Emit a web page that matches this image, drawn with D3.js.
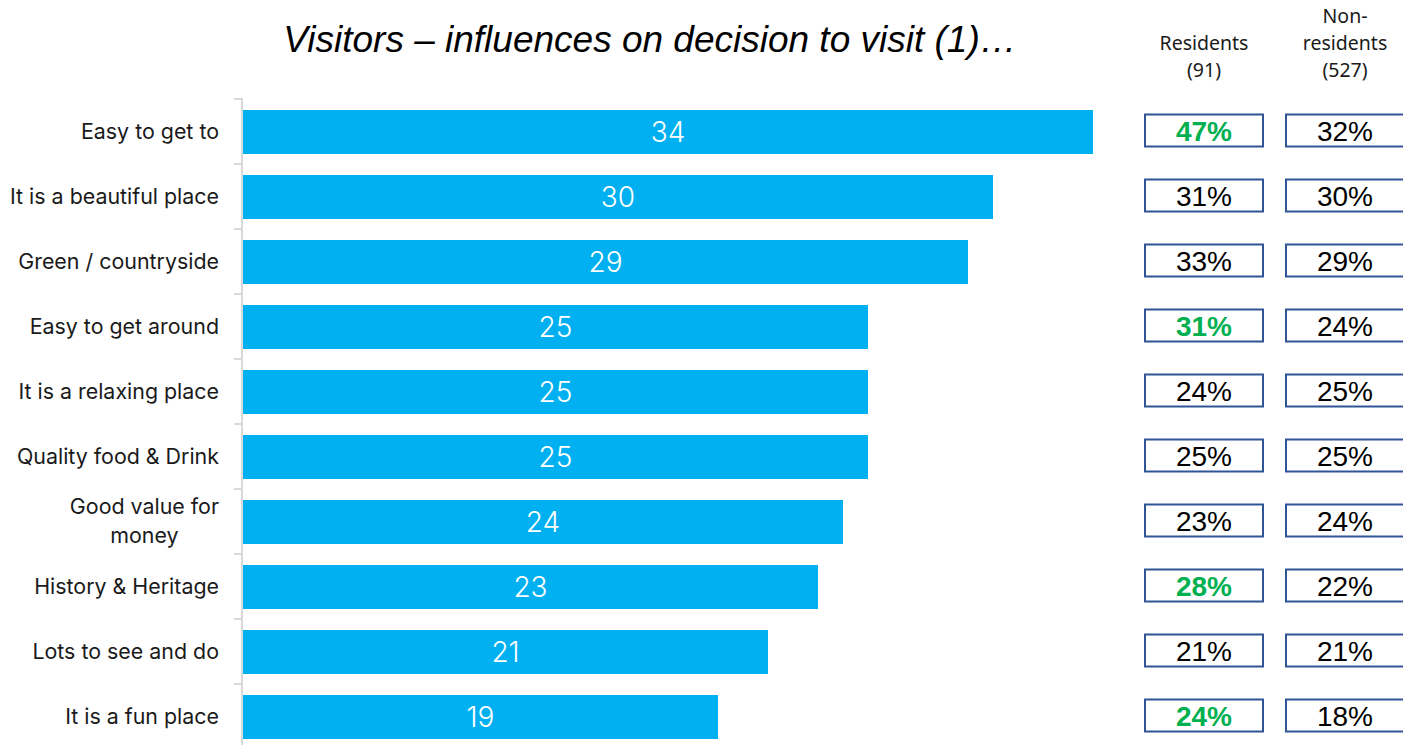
<!DOCTYPE html>
<html>
<head>
<meta charset="utf-8">
<script src="https://cdn.jsdelivr.net/npm/d3@7/dist/d3.min.js"></script>
<style>
  html, body { margin: 0; padding: 0; background: #fff; }
  svg { display: block; }
</style>
</head>
<body>
<svg id="chart" width="1403" height="745"></svg>
<script>
// Reasons for visiting, with overall score and the split by group
const categories = [
  "Easy to get to",
  "It is a beautiful place",
  "Green / countryside",
  "Easy to get around",
  "It is a relaxing place",
  "Quality food & Drink",
  "Good value for|money",
  "History & Heritage",
  "Lots to see and do",
  "It is a fun place"
];
const overall = [34, 30, 29, 25, 25, 25, 24, 23, 21, 19];
const residents = [47, 31, 33, 31, 24, 25, 23, 28, 21, 24];
const nonResidents = [32, 30, 29, 24, 25, 25, 24, 22, 21, 18];
// residents' scores that stand out against non-residents
const residentHighlight = [true, false, false, true, false, false, false, true, false, true];
const columnHeaders = [["Residents", "(91)"], ["Non-", "residents", "(527)"]];
const title = "Visitors \u2013 influences on decision to visit (1)\u2026";

const svg = d3.select("#chart");
const font = "Liberation Sans, Arial, sans-serif";
const labelFont = "Inter, Liberation Sans, sans-serif";

const x = d3.scaleLinear().domain([0, 34]).range([243, 1093]);
const y = d3.scaleBand().domain(d3.range(categories.length)).range([99, 749]);
const barPad = 11;
const barH = y.bandwidth() - 2 * barPad + 1;

// title
svg.append("text")
  .attr("x", 650).attr("y", 52)
  .attr("text-anchor", "middle")
  .attr("font-family", font)
  .attr("font-style", "italic")
  .attr("font-size", 37)
  .attr("fill", "#000")
  .text(title);

// category axis
const axis = d3.axisLeft(y).tickSize(8).tickFormat("").tickSizeOuter(0);
const gAxis = svg.append("g").attr("transform", "translate(242,0)").call(axis);
gAxis.select(".domain").attr("stroke", "#d9d9d9").attr("stroke-width", 2)
  .attr("d", "M0,98V745");
gAxis.selectAll(".tick line").attr("stroke", "#d9d9d9").attr("stroke-width", 2)
  .attr("transform", `translate(0,${-y.bandwidth() / 2})`);

// category labels: right-aligned block, wrapped lines centred on the first
const labels = svg.append("g");
categories.forEach((c, i) => {
  const lines = c.split("|");
  const cy = y(i) + y.bandwidth() / 2;
  let firstW = 0;
  lines.forEach((ln, k) => {
    const t = labels.append("text")
      .attr("font-family", labelFont)
      .attr("font-size", 21.4)
      .attr("fill", "#1a1a1a")
      .attr("y", cy + 7 + (k - (lines.length - 1) / 2) * 29)
      .text(ln);
    if (k === 0) {
      firstW = t.node().getComputedTextLength();
      t.attr("x", 219).attr("text-anchor", "end");
    } else {
      t.attr("x", 219 - firstW / 2).attr("text-anchor", "middle");
    }
  });
});

// bars
svg.append("g").selectAll("rect")
  .data(overall)
  .join("rect")
  .attr("x", x(0))
  .attr("y", (d, i) => y(i) + barPad)
  .attr("width", d => x(d) - x(0))
  .attr("height", barH)
  .attr("fill", "#00b0f0");

// bar value labels
svg.append("g").selectAll("text")
  .data(overall)
  .join("text")
  .attr("x", d => (x(0) + x(d)) / 2)
  .attr("y", (d, i) => y(i) + y.bandwidth() / 2 + 10)
  .attr("text-anchor", "middle")
  .attr("font-family", labelFont)
  .attr("font-weight", 300)
  .attr("font-size", 28)
  .attr("fill", "#fff")
  .text(d => d);

// group columns
const colX = [1145, 1286];
const colCenter = [1204, 1345];
const boxW = 118, boxH = 32;
const hdrFont = "Noto Sans, Open Sans, sans-serif";

columnHeaders.forEach((lines, c) => {
  const base = 50 - (lines.length - 2) * 27;
  lines.forEach((ln, k) => {
    svg.append("text")
      .attr("x", colCenter[c])
      .attr("y", base + k * 27)
      .attr("text-anchor", "middle")
      .attr("font-family", hdrFont)
      .attr("font-size", 19.5)
      .attr("fill", "#1a1a1a")
      .text(ln);
  });
});

[residents, nonResidents].forEach((vals, c) => {
  const g = svg.append("g");
  vals.forEach((v, i) => {
    const cy = y(i) + y.bandwidth() / 2 - 1;
    g.append("rect")
      .attr("x", colX[c])
      .attr("y", cy - boxH / 2)
      .attr("width", boxW)
      .attr("height", boxH)
      .attr("fill", "#fff")
      .attr("stroke", "#2f5597")
      .attr("stroke-width", 2);
    const hl = c === 0 && residentHighlight[i];
    g.append("text")
      .attr("x", colX[c] + boxW / 2)
      .attr("y", cy + 10)
      .attr("text-anchor", "middle")
      .attr("font-family", font)
      .attr("font-size", 28)
      .attr("font-weight", hl ? "bold" : "normal")
      .attr("fill", hl ? "#00b050" : "#000")
      .text(v + "%");
  });
});
</script>
</body>
</html>
